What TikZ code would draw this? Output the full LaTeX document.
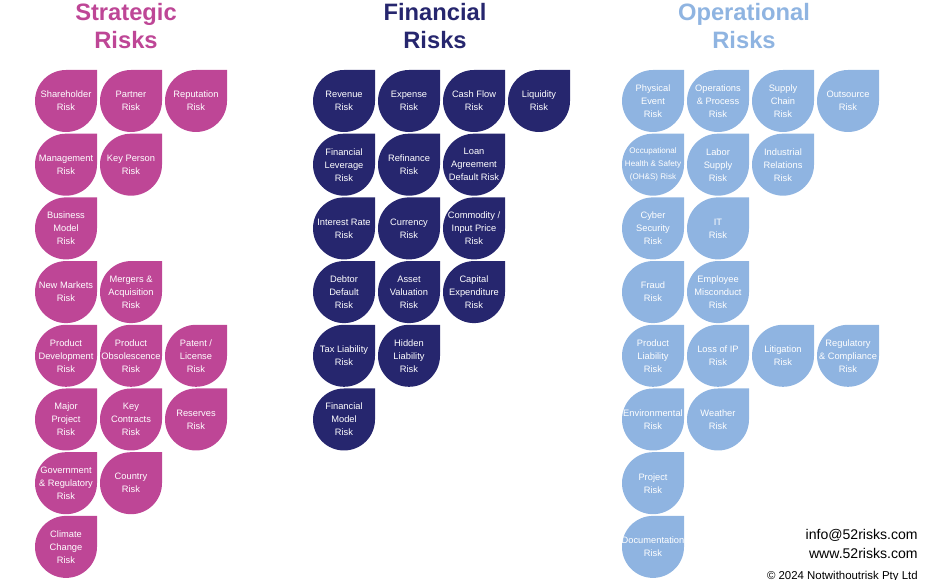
\documentclass[tikz,border=0pt]{standalone}
\usepackage{fontspec}
\setmainfont{Liberation Sans}
\definecolor{StratPink}{RGB}{190,70,150}
\definecolor{FinNavy}{RGB}{38,38,110}
\definecolor{OpBlue}{RGB}{143,180,225}
\usetikzlibrary{positioning}

% teardrop: round except the top-right corner
\newcommand\riskdrop[4]{%
  \fill[#3] (#1+31,#2) -- (#1+31,#2-31) -- (#1,#2-31)
    arc[start angle=270,end angle=0,x radius=31,y radius=31] -- cycle;
  \node[droptext] at (#1,#2) {#4};}

\begin{document}
\begin{tikzpicture}[x=0.02cm,y=-0.02cm,
    droptext/.style={text=white,font=\fontsize{5.3}{7.4}\selectfont,align=center,inner sep=0pt},
    head/.style={font=\fontsize{13.5}{15.5}\selectfont\bfseries,align=center},
    foot/.style={font=\fontsize{8}{9.6}\selectfont,anchor=east,inner sep=0pt}]
  \useasboundingbox (0,0) rectangle (940,580);
  % titles
  \node[head,text=StratPink] (hs) at (126,26) {Strategic\\Risks};
  \node[head,text=FinNavy]   (hf) at (435,26) {Financial\\Risks};
  \node[head,text=OpBlue]    (ho) at (744,26) {Operational\\Risks};
  % strategic
  \foreach \c/\r/\t in {1/1/{Shareholder\\Risk},2/1/{Partner\\Risk},3/1/{Reputation\\Risk},
      1/2/{Management\\Risk},2/2/{Key Person\\Risk},1/3/{Business\\Model\\Risk},
      1/4/{New Markets\\Risk},2/4/{Mergers \&\\Acquisition\\Risk},
      1/5/{Product\\Development\\Risk},2/5/{Product\\Obsolescence\\Risk},3/5/{Patent /\\License\\Risk},
      1/6/{Major\\Project\\Risk},2/6/{Key\\Contracts\\Risk},3/6/{Reserves\\Risk},
      1/7/{Government\\\& Regulatory\\Risk},2/7/{Country\\Risk},1/8/{Climate\\Change\\Risk}}
    {\pgfmathsetmacro\px{66+65*(\c-1)}\pgfmathsetmacro\py{101+63.7*(\r-1)}
     \riskdrop{\px}{\py}{StratPink}{\t}}
  % financial
  \foreach \c/\r/\t in {1/1/{Revenue\\Risk},2/1/{Expense\\Risk},3/1/{Cash Flow\\Risk},4/1/{Liquidity\\Risk},
      1/2/{Financial\\Leverage\\Risk},2/2/{Refinance\\Risk},3/2/{Loan\\Agreement\\Default Risk},
      1/3/{Interest Rate\\Risk},2/3/{Currency\\Risk},3/3/{Commodity /\\Input Price\\Risk},
      1/4/{Debtor\\Default\\Risk},2/4/{Asset\\Valuation\\Risk},3/4/{Capital\\Expenditure\\Risk},
      1/5/{Tax Liability\\Risk},2/5/{Hidden\\Liability\\Risk},1/6/{Financial\\Model\\Risk}}
    {\pgfmathsetmacro\px{344+65*(\c-1)}\pgfmathsetmacro\py{101+63.7*(\r-1)}
     \riskdrop{\px}{\py}{FinNavy}{\t}}
  % operational
  \foreach \c/\r/\t in {1/1/{Physical\\Event\\Risk},2/1/{Operations\\\& Process\\Risk},3/1/{Supply\\Chain\\Risk},4/1/{Outsource\\Risk},
      1/2/{{\fontsize{4.6}{7}\selectfont Occupational}\\{\fontsize{4.6}{7}\selectfont Health \& Safety}\\{\fontsize{4.6}{7}\selectfont (OH\&S) Risk}},
      2/2/{Labor\\Supply\\Risk},3/2/{Industrial\\Relations\\Risk},
      1/3/{Cyber\\Security\\Risk},2/3/{IT\\Risk},1/4/{Fraud\\Risk},2/4/{Employee\\Misconduct\\Risk},
      1/5/{Product\\Liability\\Risk},2/5/{Loss of IP\\Risk},3/5/{Litigation\\Risk},4/5/{Regulatory\\\& Compliance\\Risk},
      1/6/{Environmental\\Risk},2/6/{Weather\\Risk},1/7/{Project\\Risk},1/8/{Documentation\\Risk}}
    {\pgfmathsetmacro\px{653+65*(\c-1)}\pgfmathsetmacro\py{101+63.7*(\r-1)}
     \riskdrop{\px}{\py}{OpBlue}{\t}}
  % contact
  \node[foot] (mail) at (918,535) {info@52risks.com};
  \node[foot,below=4pt of mail.south east,anchor=north east] (web) {www.52risks.com};
  \node[foot,font=\fontsize{6.5}{8}\selectfont] (copy) at (918,577) {© 2024 Notwithoutrisk Pty Ltd};
\end{tikzpicture}
\end{document}
